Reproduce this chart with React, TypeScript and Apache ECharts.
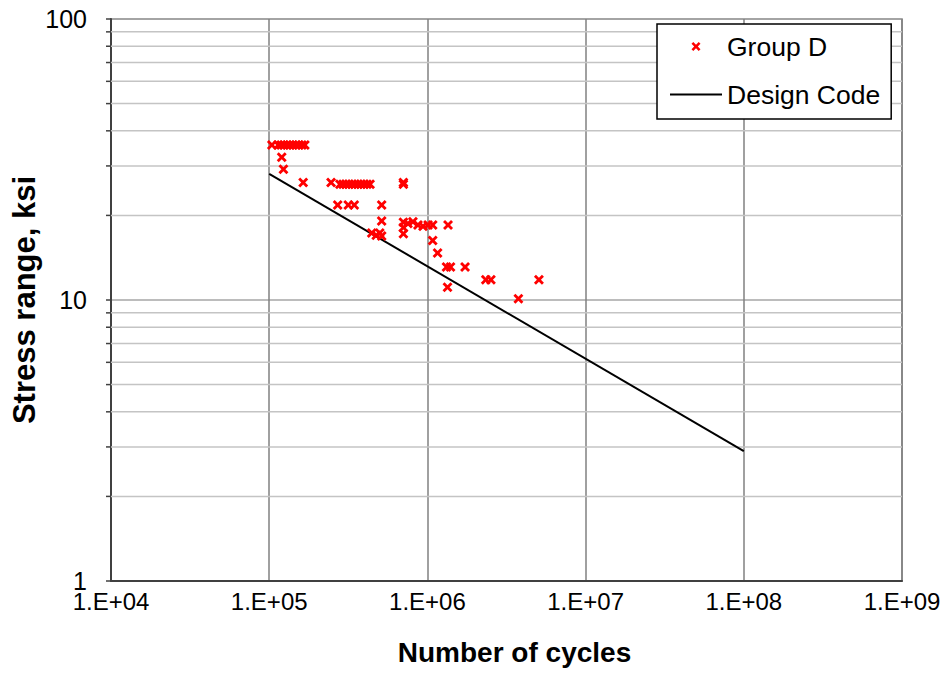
import React, { useEffect, useRef } from "react";
import * as echarts from "echarts";

const groupDCycles = [
  1.04e5, 1.14e5, 1.19e5, 1.24e5, 1.30e5, 1.35e5, 1.41e5, 1.48e5, 1.54e5, 1.61e5, 1.68e5,
  1.20e5, 1.23e5, 1.64e5, 2.46e5,
  2.80e5, 2.93e5, 3.06e5, 3.19e5, 3.34e5, 3.48e5, 3.64e5, 3.80e5, 3.97e5, 4.15e5, 4.34e5,
  7.05e5, 7.05e5,
  2.71e5, 3.16e5, 3.45e5, 5.14e5,
  5.14e5, 4.45e5, 4.75e5, 5.0e5, 5.14e5,
  7.05e5, 7.05e5, 7.05e5,
  7.53e5, 8.10e5, 8.72e5, 9.38e5, 1.01e6, 1.08e6, 1.35e6,
  1.08e6, 1.16e6, 1.32e6, 1.40e6, 1.73e6, 1.34e6, 2.34e6, 2.52e6, 5.07e6, 3.76e6,
];
const groupDStress = [
  35.6, 35.6, 35.6, 35.6, 35.6, 35.6, 35.6, 35.6, 35.6, 35.6, 35.6,
  32.2, 29.2, 26.2, 26.2,
  25.8, 25.8, 25.8, 25.8, 25.8, 25.8, 25.8, 25.8, 25.8, 25.8, 25.8,
  25.8, 26.2,
  21.8, 21.8, 21.8, 21.8,
  19.1, 17.3, 17.0, 17.3, 16.9,
  17.2, 18.1, 18.9,
  18.7, 19.0, 18.5, 18.3, 18.5, 18.5, 18.5,
  16.3, 14.7, 13.1, 13.1, 13.1, 11.1, 11.8, 11.8, 11.8, 10.1,
];
const designCycles = [1e5, 1e8];
const designStress = [28.1, 2.9];

const xTickLabels = ["1.E+04", "1.E+05", "1.E+06", "1.E+07", "1.E+08", "1.E+09"];
const yTickLabels = ["1", "10", "100"];
const yMinorLines = [2, 3, 4, 5, 6, 7, 8, 9, 20, 30, 40, 50, 60, 70, 80, 90];

const xSymbol =
  "path://M0,2 L2,0 L5,3 L8,0 L10,2 L7,5 L10,8 L8,10 L5,7 L2,10 L0,8 L3,5 Z";
const lineIcon = "path://M0,0 L52,0 L52,2 L0,2 Z";

export default function App() {
  const ref = useRef<HTMLDivElement>(null);
  useEffect(() => {
    document.body.style.margin = "0";
    if (!ref.current) return;
    const chart = echarts.init(ref.current, null, { renderer: "svg" });
    const font = "'Liberation Sans', Arial, sans-serif";
    chart.setOption({
      animation: false,
      textStyle: { fontFamily: font },
      grid: {
        left: 111,
        right: 49,
        top: 19,
        bottom: 92,
        show: true,
        borderColor: "#808080",
        borderWidth: 1.5,
        containLabel: false,
        outerBoundsMode: "none",
      },
      legend: {
        orient: "vertical",
        left: 657,
        top: 24,
        padding: [9, 11, 11, 13],
        borderColor: "#000",
        borderWidth: 1.5,
        borderRadius: 0,
        backgroundColor: "#fff",
        itemGap: 21,
        itemWidth: 52,
        itemHeight: 9,
        data: ["Group D", { name: "Design Code", icon: lineIcon }],
        textStyle: { fontSize: 26.5, color: "#000", fontFamily: font },
      },
      xAxis: {
        type: "log",
        logBase: 10,
        min: 1e4,
        max: 1e9,
        name: "Number of cycles",
        nameLocation: "middle",
        nameGap: 57,
        nameMoveOverlap: false,
        nameTextStyle: {
          fontSize: 28,
          fontWeight: "bold",
          color: "#000",
          fontFamily: font,
          padding: [0, 0, 0, 16],
        },
        axisLine: { show: true, lineStyle: { color: "#404040", width: 2 } },
        axisTick: { show: false },
        axisLabel: {
          fontSize: 24,
          color: "#000",
          margin: 8,
          fontFamily: font,
          formatter: (v: number) => xTickLabels[Math.round(Math.log10(v)) - 4] ?? "",
        },
        splitLine: { show: true, lineStyle: { color: "#808080", width: 1.5 } },
      },
      yAxis: {
        type: "log",
        logBase: 10,
        min: 1,
        max: 100,
        name: "Stress range, ksi",
        nameLocation: "middle",
        nameGap: 71,
        nameMoveOverlap: false,
        nameTextStyle: { fontSize: 31, fontWeight: "bold", color: "#000", fontFamily: font },
        axisLine: { show: true, lineStyle: { color: "#404040", width: 2 } },
        axisTick: { show: true, inside: false, length: 5, lineStyle: { color: "#404040", width: 1.5 } },
        axisLabel: {
          fontSize: 25,
          color: "#000",
          margin: 24,
          fontFamily: font,
          formatter: (v: number) => yTickLabels[Math.round(Math.log10(v))] ?? "",
        },
        splitLine: { show: true, lineStyle: { color: "#a6a6a6", width: 1.5 } },
      },
      series: [
        {
          name: "minor",
          type: "custom",
          silent: true,
          z: 1,
          clip: false,
          data: yMinorLines.map((v) => [1e4, v]),
          encode: { x: 0, y: 1 },
          renderItem: (_params: any, api: any) => {
            const v = api.value(1);
            const p0 = api.coord([1e4, v]);
            const p1 = api.coord([1e9, v]);
            return {
              type: "group",
              children: [
                {
                  type: "line",
                  shape: { x1: p0[0], y1: p0[1], x2: p1[0], y2: p1[1] },
                  style: { stroke: "#c4c4c4", lineWidth: 1.5 },
                },
                {
                  type: "line",
                  shape: { x1: p0[0] - 5, y1: p0[1], x2: p0[0], y2: p0[1] },
                  style: { stroke: "#404040", lineWidth: 1.5 },
                },
              ],
            };
          },
        },
        {
          name: "Design Code",
          type: "line",
          z: 3,
          symbol: "none",
          lineStyle: { color: "#000", width: 2 },
          itemStyle: { color: "#000" },
          data: designCycles.map((n, i) => [n, designStress[i]]),
        },
        {
          name: "Group D",
          type: "scatter",
          z: 4,
          symbol: xSymbol,
          symbolSize: 10,
          itemStyle: { color: "#ff0000", opacity: 1 },
          data: groupDCycles.map((n, i) => [n, groupDStress[i]]),
        },
      ],
    });
    return () => chart.dispose();
  }, []);
  return <div ref={ref} style={{ width: 951, height: 673 }} />;
}
